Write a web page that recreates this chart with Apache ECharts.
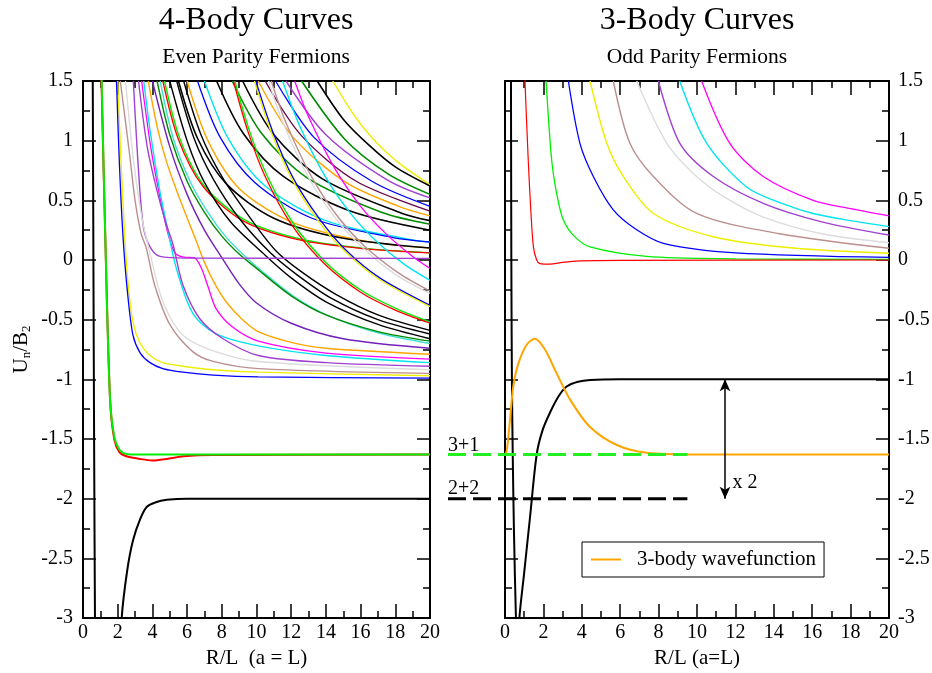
<!DOCTYPE html>
<html>
<head>
<meta charset="utf-8">
<title>4-Body / 3-Body Curves</title>
<script src="https://cdn.jsdelivr.net/npm/echarts@6/dist/echarts.min.js"></script>
<style>
  html, body { margin: 0; padding: 0; background: #fff; }
  #main { width: 932px; height: 673px; }
</style>
</head>
<body>
<div id="main"></div>
<script type="text/javascript">
// ---- 4-body curves (left panel), points as [R/L, U/B2] ----
var fGround   = [[0.56,1.6],[0.6,0],[0.64,-1.5],[0.69,-3],[0.75,-4],[1.2,-6],[1.8,-4.2],[2.23,-3],[2.55,-2.6],[2.88,-2.35],[3.3,-2.17],[3.67,-2.07],[4.2,-2.03],[4.82,-2.01],[6,-2.0],[20,-2.0]];
var fRed31    = [[1.05,1.6],[1.3,0.1],[1.56,-1.17],[1.8,-1.5],[2.1,-1.61],[2.5,-1.645],[3.2,-1.665],[4.0,-1.68],[4.9,-1.665],[5.8,-1.645],[7.5,-1.635],[20,-1.63]];
var fGreen31  = [[1.06,1.6],[1.3,0.1],[1.56,-1.17],[1.8,-1.48],[2.1,-1.59],[2.5,-1.625],[3.2,-1.63],[20,-1.63]];

var fBlue     = [[1.93,1.5],[2.1,0.8],[2.3,0.21],[2.55,-0.25],[2.88,-0.63],[3.3,-0.78],[3.86,-0.86],[4.6,-0.91],[5.76,-0.94],[7.5,-0.965],[10.1,-0.98],[20,-0.99]];
var fYellow   = [[2.0,1.5],[2.2,0.8],[2.4,0.21],[2.6,-0.2],[2.88,-0.52],[3.3,-0.7],[3.86,-0.8],[4.6,-0.86],[5.76,-0.89],[7.5,-0.92],[10.1,-0.94],[20,-0.97]];
var fBrown    = [[2.15,1.5],[2.69,0.88],[3.0,0.5],[3.35,0.22],[3.65,0.1],[4.13,-0.21],[5.0,-0.54],[6.34,-0.77],[7.5,-0.85],[10.1,-0.91],[20,-0.95]];
var fGrey     = [[2.45,1.5],[2.9,0.85],[3.4,0.35],[3.84,0.07],[4.61,-0.35],[5.76,-0.63],[7.68,-0.77],[10.1,-0.85],[20,-0.92]];
var fViolet0  = [[2.9,1.5],[3.2,0.75],[3.48,0.28],[3.86,0.11],[4.44,0.03],[6,0.016],[20,0.014]];
var fViolet   = [[3.2,1.5],[3.7,0.95],[4.25,0.59],[4.8,0.3],[5.19,0.13],[5.76,-0.21],[6.72,-0.49],[8.07,-0.66],[10.1,-0.8],[14,-0.86],[20,-0.89]];
var fCyan     = [[3.5,1.5],[3.9,1.05],[4.4,0.6],[4.82,0.3],[5.38,-0.07],[6.34,-0.45],[7.68,-0.62],[10.1,-0.72],[14,-0.8],[20,-0.86]];
var fMagenta  = [[3.38,1.5],[3.9,0.95],[4.4,0.55],[4.9,0.22],[5.3,0.06],[5.8,0.025],[6.4,0.02],[6.8,-0.06],[7.2,-0.22],[7.68,-0.41],[8.6,-0.56],[10.1,-0.68],[14,-0.78],[20,-0.83]];
var fOrange   = [[3.76,1.5],[4.3,1.1],[4.82,0.82],[5.4,0.58],[5.98,0.36],[6.5,0.17],[7.0,-0.02],[7.6,-0.2],[8.3,-0.36],[9.2,-0.5],[10.1,-0.6],[12,-0.69],[14,-0.74],[20,-0.79]];
var fIndigo   = [[4.0,1.5],[5,0.95],[6,0.55],[7,0.25],[8,0.02],[9,-0.2],[10,-0.36],[12,-0.53],[15,-0.66],[20,-0.74]];
var fGreen4   = [[4.27,1.5],[5,1.05],[6,0.66],[7,0.4],[8,0.2],[9,0.05],[10,-0.07],[12,-0.3],[14,-0.46],[17,-0.6],[20,-0.68]];
var fTurq     = [[4.45,1.5],[5.2,1.02],[6.2,0.65],[7.2,0.4],[8.2,0.2],[9.2,0.05],[10.2,-0.08],[12.2,-0.31],[14.2,-0.47],[17,-0.61],[20,-0.7]];
var fBlackA   = [[5.0,1.5],[6,1.0],[7,0.65],[8.5,0.32],[10.5,0.04],[12,-0.15],[14,-0.35],[17,-0.54],[20,-0.66]];
var fBlackB   = [[5.4,1.5],[6.4,1.02],[7.5,0.68],[9,0.35],[10.8,0.06],[12.3,-0.12],[14.3,-0.32],[17,-0.5],[20,-0.62]];
var fBlackC   = [[5.8,1.5],[6.8,1.05],[8,0.7],[9.5,0.38],[11.1,0.08],[12.6,-0.1],[14.6,-0.29],[17,-0.46],[20,-0.59]];
var fRedUp    = [[8.67,1.5],[9.5,1.08],[10.5,0.7],[12,0.3],[13.9,-0.03],[16,-0.27],[18,-0.42],[20,-0.53]];
var fGreenUp  = [[8.75,1.5],[9.6,1.08],[10.6,0.71],[12.1,0.31],[14,-0.02],[16.1,-0.26],[18.1,-0.41],[20,-0.52]];
var fYellowUp = [[9.88,1.5],[10.8,1.09],[12,0.69],[13.5,0.34],[15,0.085],[17,-0.155],[20,-0.39]];
var fBlueUp   = [[9.96,1.5],[10.9,1.09],[12.1,0.69],[13.6,0.35],[15.1,0.09],[17.1,-0.15],[20,-0.38]];
var fGreyUp   = [[10.7,1.5],[11.5,1.16],[13,0.69],[14.5,0.36],[16,0.12],[18,-0.12],[20,-0.28]];
var fBrownUp  = [[10.85,1.5],[11.7,1.15],[13.2,0.69],[14.7,0.36],[16.2,0.12],[18.2,-0.11],[20,-0.26]];
var fCyanUp   = [[11.5,1.5],[12.5,1.12],[14,0.69],[15.5,0.376],[17,0.144],[18.5,-0.034],[20,-0.17]];
var fMagentaUp= [[12.2,1.5],[13,1.2],[14.5,0.77],[16,0.45],[17.5,0.215],[19,0.03],[20,-0.07]];

var fRed0     = [[4.6,1.5],[5.5,1.01],[6.9,0.62],[9.2,0.33],[12.4,0.17],[16.1,0.096],[20,0.06]];
var fGreen0   = [[4.7,1.5],[5.6,1.01],[7.0,0.62],[9.4,0.33],[12.7,0.17],[16.4,0.095],[20,0.06]];
var fBlack0   = [[5.5,1.5],[6.6,1.02],[8.25,0.64],[11,0.35],[14.85,0.186],[20,0.1]];
var fOrange0  = [[6,1.5],[7.2,1.0],[9,0.6],[12,0.32],[16.2,0.16],[20,0.1]];
var fBlue0    = [[6.6,1.5],[7.9,1.03],[9.9,0.65],[13.2,0.35],[17.8,0.19],[20,0.15]];
var fCyan0    = [[7,1.5],[8.4,1.01],[10.5,0.62],[14,0.33],[18.9,0.17],[20,0.15]];
var fBlack0b  = [[7.7,1.5],[9.24,1.06],[11.55,0.7],[15.4,0.41],[20,0.25]];
var fGreen0b  = [[8.6,1.5],[10.3,1.06],[12.9,0.69],[17.2,0.4],[20,0.3]];
var fBlack0c  = [[9.2,1.5],[11.0,1.05],[13.8,0.68],[18.4,0.39],[20,0.33]];
var fOrange0b = [[10.1,1.5],[12.1,1.03],[15.15,0.65],[18.2,0.45],[20,0.37]];
var fMaroon0  = [[10.5,1.5],[12.6,1.04],[15.75,0.66],[20,0.41]];
var fBlue0c   = [[11.1,1.5],[13.3,1.03],[16.65,0.66],[20,0.45]];
var fViolet0b = [[11.7,1.5],[14.0,1.05],[17.55,0.67],[20,0.52]];
var fGreen0c  = [[12.6,1.5],[15.1,1.01],[17.6,0.72],[20,0.55]];
var fBlack0d  = [[13.5,1.5],[15,1.18],[16.5,0.96],[18,0.78],[20,0.62]];
var fYellow0  = [[14.4,1.5],[15.5,1.24],[16.5,1.05],[17.5,0.9],[18.5,0.78],[20,0.63]];

// ---- 3-body curves (right panel) ----
var tBlack   = [[0.31,1.6],[0.33,0],[0.36,-1.0],[0.4,-1.6],[0.47,-2.3],[0.57,-3.0],[0.66,-3.4],[0.75,-3.0],[1.0,-2.62],[1.3,-2.16],[1.65,-1.63],[1.95,-1.43],[2.34,-1.28],[2.8,-1.14],[3.21,-1.06],[3.8,-1.02],[4.43,-1.005],[6,-1.0],[20,-1.0]];
var tRed     = [[1.0,1.7],[1.04,1.5],[1.21,0.84],[1.35,0.4],[1.48,0.11],[1.65,0.0],[1.82,-0.03],[2.34,-0.035],[3.0,-0.02],[3.9,-0.008],[6,-0.003],[20,0]];
var tGreen   = [[2.14,1.5],[2.43,0.84],[2.7,0.55],[3.04,0.335],[3.6,0.2],[4.43,0.11],[7.38,0.03],[12,0.01],[20,0.005]];
var tBlue    = [[3.3,1.5],[3.9,0.98],[4.6,0.7],[5.64,0.42],[6.8,0.26],[8.25,0.14],[12,0.06],[20,0.022]];
var tYellow  = [[4.43,1.5],[5.3,0.98],[6.16,0.7],[7.73,0.39],[10.85,0.195],[15,0.1],[20,0.056]];
var tBrown   = [[5.64,1.5],[6.5,0.98],[7.73,0.7],[9.98,0.39],[14.3,0.22],[20,0.098]];
var tGrey    = [[6.86,1.5],[8.42,0.98],[9.98,0.7],[11.5,0.52],[13.45,0.36],[16.5,0.22],[20,0.145]];
var tViolet  = [[7.99,1.5],[9.1,0.98],[10.85,0.7],[13.45,0.475],[16.5,0.32],[20,0.21]];
var tCyan    = [[9.1,1.5],[10.5,0.98],[12.6,0.61],[14.5,0.47],[16.05,0.39],[18,0.33],[20,0.28]];
var tMagenta = [[10.24,1.5],[11.7,0.98],[13.45,0.7],[16.05,0.5],[18,0.43],[20,0.37]];
var tWave    = [[0.0,-1.63],[0.09,-1.6],[0.26,-1.34],[0.43,-1.06],[0.69,-0.87],[1.13,-0.71],[1.56,-0.66],[2.08,-0.75],[2.69,-0.95],[3.39,-1.17],[4.43,-1.4],[5.82,-1.55],[7.38,-1.615],[10,-1.63],[20,-1.63]];

// threshold lines (3+1, 2+2) start left of the right panel, the x2 arrow and the labels
var line31 = [[-2.97,-1.63],[9.5,-1.63]];
var line22 = [[-2.97,-2.0],[9.5,-2.0]];
var arrowEnds = [[11.46,-1],[11.46,-2]];
var textMarks = [['3+1',-2.97,-1.56],['2+2',-2.97,-1.92],['x 2',11.85,-1.865]];

var FONT = '"Liberation Serif", "DejaVu Serif", serif';
var C = {black:'#000000', red:'#ff0000', green:'#00ee00', blue:'#0000ff', yellow:'#eeee00',
         brown:'#bc8f8f', grey:'#dcdcdc', violet:'#a040d0', cyan:'#00e5ee', magenta:'#ff00ff',
         orange:'#ffa500', indigo:'#7221bc', maroon:'#670748', turq:'#40e0d0', green4:'#008b00'};

var leftCurves = [
    [fYellow0, C.yellow, 1.4], [fBlack0d, C.black, 1.6], [fGreen0c, C.green4, 1.6], [fViolet0b, C.violet, 1.4],
    [fBlue0c, C.blue, 1.3], [fMaroon0, C.maroon, 1.4], [fOrange0b, C.orange, 1.4], [fBlack0c, C.black, 1.6],
    [fGreen0b, C.green4, 1.6], [fBlack0b, C.black, 1.6], [fCyan0, C.cyan, 1.4], [fBlue0, C.blue, 1.3],
    [fOrange0, C.orange, 1.4], [fBlack0, C.black, 1.6], [fGreen0, C.green, 1.4], [fRed0, C.red, 1.3],
    [fMagentaUp, C.magenta, 1.3], [fCyanUp, C.cyan, 1.4], [fBrownUp, C.brown, 1.4], [fGreyUp, C.grey, 1.4],
    [fBlueUp, C.blue, 1.3], [fYellowUp, C.yellow, 1.4], [fGreenUp, C.green, 1.4], [fRedUp, C.red, 1.3],
    [fBlackC, C.black, 1.4], [fBlackB, C.black, 1.4], [fBlackA, C.black, 1.4],
    [fTurq, C.turq, 1.4], [fGreen4, C.green4, 1.4], [fIndigo, C.indigo, 1.4],
    [fOrange, C.orange, 1.4], [fMagenta, C.magenta, 1.3], [fCyan, C.cyan, 1.4], [fViolet, C.violet, 1.4],
    [fViolet0, C.violet, 1.4], [fGrey, C.grey, 1.4], [fBrown, C.brown, 1.4], [fYellow, C.yellow, 1.4],
    [fBlue, C.blue, 1.3], [fRed31, C.red, 2], [fGreen31, C.green, 2], [fGround, C.black, 2]
];
var rightCurves = [
    [tMagenta, C.magenta, 1.3], [tCyan, C.cyan, 1.4], [tViolet, C.violet, 1.4], [tGrey, C.grey, 1.4],
    [tBrown, C.brown, 1.4], [tYellow, C.yellow, 1.4], [tBlue, C.blue, 1.3], [tGreen, C.green, 1.3],
    [tRed, C.red, 1.2], [tBlack, C.black, 2]
];

function curve(ax, pts, color, width) {
    return {
        type: 'line', xAxisIndex: ax, yAxisIndex: ax, data: pts, symbol: 'none',
        smooth: 0.3, silent: true, lineStyle: {color: color, width: width}, itemStyle: {color: color}
    };
}

function xAxis(grid, pos, labels, name) {
    return {
        type: 'value', gridIndex: grid, position: pos, min: 0, max: 20, interval: 2,
        axisLine: {show: true, onZero: false, lineStyle: {color: '#000', width: 2}},
        axisTick: {show: true, inside: true, length: 14, lineStyle: {color: '#000', width: 1.5}},
        minorTick: {show: true, splitNumber: 2, length: 7, lineStyle: {color: '#000', width: 1.5}},
        splitLine: {show: false},
        axisLabel: {show: labels, color: '#000', fontFamily: FONT, fontSize: 20, margin: 5},
        name: name || '', nameLocation: 'middle', nameGap: 26,
        nameTextStyle: {color: '#000', fontFamily: FONT, fontSize: 21}
    };
}

function yAxis(grid, pos, labels) {
    return {
        type: 'value', gridIndex: grid, position: pos, min: -3, max: 1.5, interval: 0.5,
        axisLine: {show: true, onZero: false, lineStyle: {color: '#000', width: 2}},
        axisTick: {show: true, inside: true, length: 13, lineStyle: {color: '#000', width: 1.5}},
        minorTick: {show: true, splitNumber: 2, length: 7, lineStyle: {color: '#000', width: 1.5}},
        splitLine: {show: false},
        axisLabel: {show: labels, color: '#000', fontFamily: FONT, fontSize: 20, margin: pos === 'left' ? 10 : 9}
    };
}

// hidden axes of the overlay grid that carries the threshold lines into the gap
function hiddenAxis(grid, min, max) {
    return {type: 'value', gridIndex: grid, min: min, max: max, show: false,
            axisLine: {show: false}, axisTick: {show: false}, axisLabel: {show: false}, splitLine: {show: false}};
}

var myChart = echarts.init(document.getElementById('main'));

var yLeft = yAxis(0, 'left', true);
yLeft.name = 'U{s|n}/B{s|2}';
yLeft.nameLocation = 'middle';
yLeft.nameRotate = 90;
yLeft.nameGap = 50;
yLeft.nameTextStyle = {color: '#000', fontFamily: FONT, fontSize: 21,
    rich: {s: {color: '#000', fontFamily: FONT, fontSize: 13, padding: [10, 0, 0, 0]}}};

var series = [];
leftCurves.forEach(function (c) { series.push(curve(0, c[0], c[1], c[2])); });
rightCurves.forEach(function (c) { series.push(curve(2, c[0], c[1], c[2])); });

series.push({
    type: 'line', name: '3-body wavefunction', xAxisIndex: 2, yAxisIndex: 2, data: tWave,
    symbol: 'none', smooth: 0.3, silent: true, z: 3,
    lineStyle: {color: C.orange, width: 2}, itemStyle: {color: C.orange}
});
series.push({
    type: 'line', xAxisIndex: 4, yAxisIndex: 4, data: line31, symbol: 'none', silent: true, z: 4,
    lineStyle: {color: '#22ee22', width: 3, type: [18, 7]}
});
series.push({
    type: 'line', xAxisIndex: 4, yAxisIndex: 4, data: line22, symbol: 'none', silent: true, z: 4,
    lineStyle: {color: '#000', width: 3, type: [18, 7]}
});
series.push({
    type: 'line', xAxisIndex: 2, yAxisIndex: 2, data: [], symbol: 'none', silent: true,
    markLine: {
        silent: true, symbol: ['arrow', 'arrow'], symbolSize: [8, 12], animation: false,
        label: {show: false},
        lineStyle: {color: '#000', width: 1.5, type: 'solid'},
        data: [[{coord: arrowEnds[0]}, {coord: arrowEnds[1]}]]
    }
});
series.push({
    type: 'scatter', xAxisIndex: 4, yAxisIndex: 4, clip: false, silent: true, symbolSize: 0,
    itemStyle: {color: '#000'},
    data: textMarks.map(function (t) { return {value: [t[1], t[2]], name: t[0]}; }),
    label: {show: true, position: 'right', distance: 0, formatter: '{b}', opacity: 1,
            color: '#000', fontFamily: FONT, fontSize: 20}
});

var titleFont = {fontFamily: FONT, fontSize: 32, fontWeight: 'normal', color: '#000'};
var subFont = {fontFamily: FONT, fontSize: 21.5, color: '#000'};

var option = {
    animation: false,
    backgroundColor: '#fff',
    title: [
        {text: '4-Body Curves', subtext: 'Even Parity Fermions', left: 256, top: 5, textAlign: 'center',
         padding: 0, itemGap: 9, textStyle: titleFont, subtextStyle: subFont},
        {text: '3-Body Curves', subtext: 'Odd Parity Fermions', left: 697, top: 5, textAlign: 'center',
         padding: 0, itemGap: 9, textStyle: titleFont, subtextStyle: subFont}
    ],
    legend: {
        data: [{name: '3-body wavefunction', icon: 'rect'}], left: 582, top: 542, selectedMode: false,
        borderColor: '#000', borderWidth: 1, padding: [7, 8, 7, 9],
        itemWidth: 30, itemHeight: 2,
        textStyle: {fontFamily: FONT, fontSize: 21, color: '#000', padding: [0, 0, 0, 11]}
    },
    grid: [
        {left: 83, top: 81, width: 347, height: 537, outerBoundsMode: 'none'},
        {left: 505, top: 81, width: 384, height: 537, outerBoundsMode: 'none'},
        {left: 448, top: 81, width: 441, height: 537, outerBoundsMode: 'none'}
    ],
    xAxis: [
        xAxis(0, 'bottom', true, 'R/L  (a = L)'), xAxis(0, 'top', false),
        xAxis(1, 'bottom', true, 'R/L (a=L)'), xAxis(1, 'top', false),
        hiddenAxis(2, -2.97, 20)
    ],
    yAxis: [yLeft, yAxis(0, 'right', false), yAxis(1, 'left', false), yAxis(1, 'right', true),
            hiddenAxis(2, -3, 1.5)],
    series: series
};

myChart.setOption(option);
</script>
</body>
</html>
